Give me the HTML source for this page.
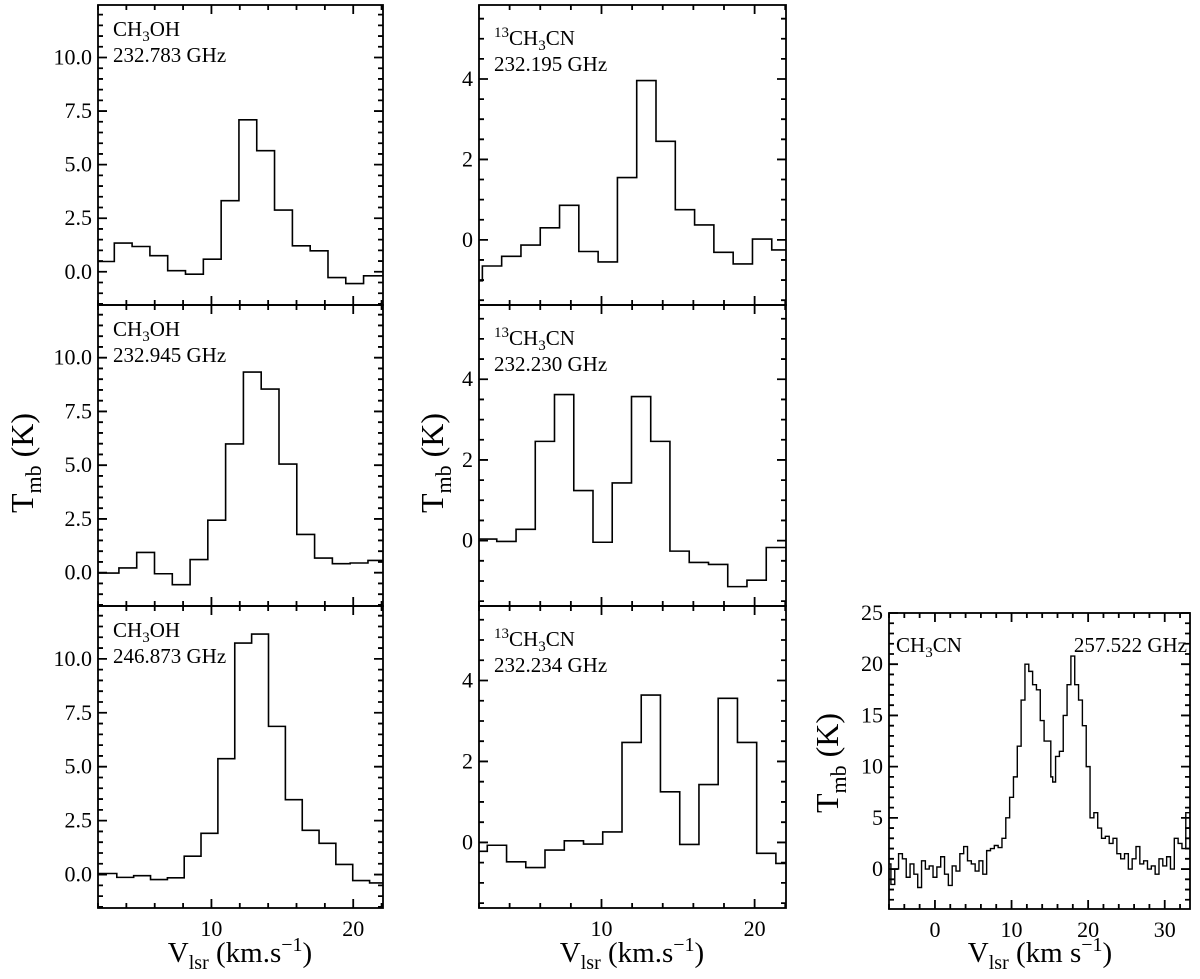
<!DOCTYPE html>
<html><head><meta charset="utf-8">
<style>
html,body{margin:0;padding:0;background:#fff;}
svg{display:block;font-family:"Liberation Serif",serif;}
</style></head>
<body>
<svg id="fig" width="1200" height="979" viewBox="0 0 1200 979" xmlns="http://www.w3.org/2000/svg"></svg>
<script>
// ---- data ----
const ch3ohA_v = [2.52,3.78,5.03,6.29,7.54,8.80,10.06,11.31,12.57,13.82,15.08,16.34,17.59,18.85,20.10,21.36];
const ch3ohA_T = [0.48,1.34,1.18,0.75,0.05,-0.11,0.59,3.32,7.09,5.65,2.88,1.21,0.98,-0.27,-0.55,-0.19];
const ch3ohB_v = [2.85,4.10,5.36,6.61,7.87,9.12,10.37,11.63,12.88,14.14,15.39,16.65,17.90,19.16,20.41,21.67];
const ch3ohB_T = [-0.02,0.22,0.94,-0.05,-0.56,0.61,2.44,5.99,9.33,8.54,5.05,1.78,0.68,0.42,0.45,0.57];
const ch3ohC_v = [2.73,3.92,5.11,6.30,7.49,8.67,9.86,11.05,12.24,13.43,14.62,15.81,17.00,18.18,19.37,20.56,21.75];
const ch3ohC_T = [0.05,-0.13,-0.05,-0.23,-0.15,0.85,1.91,5.37,10.73,11.15,6.87,3.47,2.05,1.45,0.47,-0.28,-0.39];
const cnA_v = [1.59,2.85,4.11,5.37,6.63,7.89,9.15,10.41,11.67,12.93,14.19,15.45,16.71,17.97,19.23,20.49,21.75];
const cnA_T = [-1.02,-0.65,-0.41,-0.13,0.30,0.86,-0.29,-0.55,1.55,3.96,2.45,0.75,0.37,-0.31,-0.60,0.02,-0.25];
const cnB_v = [2.53,3.79,5.05,6.30,7.56,8.82,10.07,11.33,12.59,13.84,15.10,16.36,17.62,18.87,20.13,21.39];
const cnB_T = [0.04,-0.02,0.28,2.46,3.62,1.24,-0.04,1.43,3.57,2.46,-0.26,-0.54,-0.59,-1.14,-0.98,-0.17];
const cnC_v = [1.91,3.17,4.43,5.68,6.94,8.20,9.45,10.71,11.97,13.22,14.48,15.74,16.99,18.25,19.51,20.76,22.02];
const cnC_T = [-0.22,-0.07,-0.48,-0.62,-0.19,0.04,-0.04,0.26,2.47,3.64,1.25,-0.05,1.43,3.56,2.47,-0.27,-0.52];
const ch3cn_v = [-6,-5.5,-5,-4.5,-4,-3.5,-3,-2.5,-2,-1.5,-1,-0.5,0,0.5,1,1.5,2,2.5,3,3.5,4,4.5,5,5.5,6,6.5,7,7.5,8,8.5,9,9.5,10,10.5,11,11.5,12,12.5,13,13.5,14,14.5,15,15.25,15.5,16,16.5,17,17.5,18,18.5,19,19.5,20,20.5,21,21.5,22,22.5,23,23.5,24,24.5,25,25.5,26,26.5,27,27.5,28,28.5,29,29.5,30,30.5,31,31.5,32,32.5,33];
const ch3cn_T = [0.5,-1.5,0,1.5,1,-0.8,0.5,-0.5,-1.8,0.8,0,0.3,-0.8,0.2,1.2,-0.5,-1.6,0.3,-0.2,1.5,2.2,0.8,0.5,-0.2,0.8,-0.5,1.8,2,2.3,2.1,3,5,7,9,12,16.5,20,19.3,18,17.5,14.5,12.5,12.5,9,8.5,11,11.5,15,18,20.8,18,16.5,14,10,5,5.5,4,3,3.2,2.5,3,1.5,1,1.5,0,1,2.2,0.5,0.8,0,0.3,-0.5,1,0.3,1.2,0,3,2.5,2,5.5];
const leftYTicks = [0,2.5,5,7.5,10];
const leftYLabels = ["0.0","2.5","5.0","7.5","10.0"];
const midYTicks = [0,2,4];
const midYLabels = ["0","2","4"];
const rightYTicks = [0,5,10,15,20,25];
const xTicks = [10,20];
const rightXTicks = [0,10,20,30];

const NS="http://www.w3.org/2000/svg";
const svg=document.getElementById('fig');
function mk(tag,attrs,parent){const e=document.createElementNS(NS,tag);for(const k in attrs)e.setAttribute(k,attrs[k]);(parent||svg).appendChild(e);return e;}

function panel(cfg){
  const g=mk('g',{});
  
  
  const sx=v=>cfg.x0+(v-cfg.xmin)/(cfg.xmax-cfg.xmin)*(cfg.x1-cfg.x0);
  const sy=t=>cfg.y1-(t-cfg.ymin)/(cfg.ymax-cfg.ymin)*(cfg.y1-cfg.y0);
  const cid='clip-'+cfg.name;
  const cp=mk('clipPath',{id:cid},g);
  mk('rect',{x:cfg.x0,y:cfg.y0,width:cfg.x1-cfg.x0,height:cfg.y1-cfg.y0},cp);
  const vs=cfg.v, ts=cfg.T;
  let d='';
  for(let i=0;i<vs.length;i++){
    const l = i===0 ? cfg.xmin-1 : (vs[i-1]+vs[i])/2;
    const r = i===vs.length-1 ? cfg.xmax+1 : (vs[i]+vs[i+1])/2;
    d += (i===0?'M':'L')+sx(l).toFixed(2)+','+sy(ts[i]).toFixed(2)+' L'+sx(r).toFixed(2)+','+sy(ts[i]).toFixed(2)+' ';
  }
  const p=mk('path',{d:d,fill:'none',stroke:'#000','stroke-width':cfg.lw||1.6,'clip-path':'url(#'+cid+')','stroke-linejoin':'miter'},g);
  
  
  let td='';
  const addX=(v,len)=>{const x=sx(v);td+=`M${x},${cfg.y1}v${-len}M${x},${cfg.y0}v${len}`;};
  const addY=(t,len)=>{const y=sy(t);td+=`M${cfg.x0},${y}h${len}M${cfg.x1},${y}h${-len}`;};
  for(let v=Math.ceil(cfg.xmin/cfg.xminor)*cfg.xminor;v<=cfg.xmax+1e-9;v+=cfg.xminor){
    const major=Math.abs(v/cfg.xmajor-Math.round(v/cfg.xmajor))<1e-6;
    addX(v,major?9:5);
  }
  for(let t=Math.ceil(cfg.ymin/cfg.yminor)*cfg.yminor;t<=cfg.ymax+1e-9;t+=cfg.yminor){
    const major=Math.abs(t/cfg.ymajor-Math.round(t/cfg.ymajor))<1e-6;
    addY(t,major?9:5);
  }
  mk('path',{d:td,stroke:'#000','stroke-width':1.8,fill:'none'},g);
  const fr=mk('rect',{x:cfg.x0,y:cfg.y0,width:cfg.x1-cfg.x0,height:cfg.y1-cfg.y0,fill:'none',stroke:'#000','stroke-width':1.8},g);
  
  
  cfg.yticks.forEach((t,i)=>{
    const tx=mk('text',{x:cfg.x0-6,y:sy(t)+7,'font-size':22,'text-anchor':'end'},g);
    tx.textContent=cfg.ylabels[i];
    
    
  });
  if(cfg.xticks){cfg.xticks.forEach(v=>{
    const tx=mk('text',{x:sx(v),y:cfg.y1+28,'font-size':22,'text-anchor':'middle'},g);
    tx.textContent=String(v);
    
    
  });}
  return {g,sx,sy};
}

function molLabel(parent,x,y,kind,name){
  const t=mk('text',{x:x,y:y,'font-size':21},parent);
  
  
  if(kind==='ch3oh'){
    t.innerHTML='CH<tspan font-size="15" dy="5">3</tspan><tspan dy="-5">OH</tspan>';
  }else if(kind==='13ch3cn'){
    t.innerHTML='<tspan font-size="15" dy="-8">13</tspan><tspan dy="8">CH</tspan><tspan font-size="15" dy="5">3</tspan><tspan dy="-5">CN</tspan>';
  }else{
    t.innerHTML='CH<tspan font-size="15" dy="5">3</tspan><tspan dy="-5">CN</tspan>';
  }
}
function txt(parent,x,y,s,size,name,anchor){
  const t=mk('text',{x:x,y:y,'font-size':size,'text-anchor':anchor||'start'},parent);
  t.textContent=s;
  
  
  return t;
}

const L={x0:98,x1:383,xmin:2,xmax:22.1,ymin:-1.55,ymax:12.45,xminor:2,xmajor:10,yminor:0.5,ymajor:2.5,yticks:leftYTicks,ylabels:leftYLabels};
const M={x0:479,x1:786,xmin:2,xmax:22.05,ymin:-1.62,ymax:5.84,xminor:2,xmajor:10,yminor:0.5,ymajor:2,yticks:midYTicks,ylabels:midYLabels};
const rows=[[5,305],[305,606],[606,908]];
const specs=[
 [L,rows[0],ch3ohA_v,ch3ohA_T,'ch3oh-232783','ch3oh','232.783 GHz'],
 [L,rows[1],ch3ohB_v,ch3ohB_T,'ch3oh-232945','ch3oh','232.945 GHz'],
 [L,rows[2],ch3ohC_v,ch3ohC_T,'ch3oh-246873','ch3oh','246.873 GHz'],
 [M,rows[0],cnA_v,cnA_T,'13ch3cn-232195','13ch3cn','232.195 GHz'],
 [M,rows[1],cnB_v,cnB_T,'13ch3cn-232230','13ch3cn','232.230 GHz'],
 [M,rows[2],cnC_v,cnC_T,'13ch3cn-232234','13ch3cn','232.234 GHz'],
];
specs.forEach((s,i)=>{
  const cfg=Object.assign({},s[0],{y0:s[1][0],y1:s[1][1],v:s[2],T:s[3],name:'panel-'+s[4],xticks:(i%3===2)?xTicks:null});
  const P=panel(cfg);
  const lx=cfg.x0+15, off=(s[0]===L)?31:40;
  molLabel(P.g,lx,cfg.y0+off,s[5],'molecule-label');
  txt(P.g,lx,cfg.y0+off+26,s[6],21,'frequency-label');
});
const R={x0:889,x1:1190,y0:613,y1:909,xmin:-6,xmax:33.3,ymin:-3.9,ymax:25,xminor:2,xmajor:10,yminor:1,ymajor:5,
  yticks:rightYTicks,ylabels:rightYTicks.map(String),xticks:rightXTicks,v:ch3cn_v,T:ch3cn_T,name:'panel-ch3cn-257522',lw:1.4};
const PR=panel(R);
molLabel(PR.g,896,652,'ch3cn','molecule-label');
txt(PR.g,1187,652,'257.522 GHz',21,'frequency-label','end');

function ytitle(x,y,name){
  const t=mk('text',{x:0,y:0,'font-size':32,'text-anchor':'middle',transform:`translate(${x},${y}) rotate(-90)`});
  t.innerHTML='T<tspan font-size="22" dy="8">mb</tspan><tspan dy="-8"> (K)</tspan>';
  
  
}
ytitle(33,463,'y-axis-title-left');
ytitle(443,463,'y-axis-title-middle');
ytitle(838,763,'y-axis-title-right');
function xtitle(x,y,unit,name){
  const t=mk('text',{x:x,y:y,'font-size':29,'text-anchor':'middle'});
  t.innerHTML='V<tspan font-size="20" dy="7">lsr</tspan><tspan dy="-7"> (km'+unit+'s</tspan><tspan font-size="20" dy="-11">−1</tspan><tspan dy="11">)</tspan>';
  
  
}
xtitle(240,962,'.','x-axis-title-left');
xtitle(632,962,'.','x-axis-title-middle');
xtitle(1040,962,' ','x-axis-title-right');
</script>
</body></html>
